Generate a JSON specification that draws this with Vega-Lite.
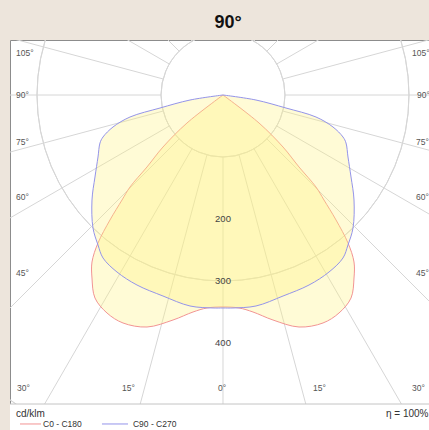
{
  "$schema": "https://vega.github.io/schema/vega-lite/v6.json",
  "width": 419,
  "height": 390,
  "autosize": {"type": "none"},
  "padding": {"left": 10, "top": 40, "right": 0, "bottom": 0},
  "background": "#ede5dc",
  "view": {"fill": "white", "stroke": "#8c8c8c", "strokeWidth": 1},
  "config": {"font": "Liberation Sans"},
  "datasets": {
    "rings": [{"r": 100}, {"r": 200}, {"r": 300}, {"r": 400}, {"r": 500}, {"r": 600}, {"r": 700}],
    "spokes": [
      {"x1": 0, "y1": -100, "x2": 0, "y2": -900},
      {"x1": 25.88, "y1": -96.59, "x2": 232.9, "y2": -869.3},
      {"x1": 50, "y1": -86.6, "x2": 450, "y2": -779.4},
      {"x1": 70.71, "y1": -70.71, "x2": 636.4, "y2": -636.4},
      {"x1": 86.6, "y1": -50, "x2": 779.4, "y2": -450},
      {"x1": 96.59, "y1": -25.88, "x2": 869.3, "y2": -232.9},
      {"x1": 100, "y1": 0, "x2": 900, "y2": 0},
      {"x1": 96.59, "y1": 25.88, "x2": 869.3, "y2": 232.9},
      {"x1": 86.6, "y1": 50, "x2": 779.4, "y2": 450},
      {"x1": 70.71, "y1": 70.71, "x2": 636.4, "y2": 636.4},
      {"x1": 50, "y1": 86.6, "x2": 450, "y2": 779.4},
      {"x1": 25.88, "y1": 96.59, "x2": 232.9, "y2": 869.3},
      {"x1": 0, "y1": 100, "x2": 0, "y2": 900},
      {"x1": -25.88, "y1": -96.59, "x2": -232.9, "y2": -869.3},
      {"x1": -50, "y1": -86.6, "x2": -450, "y2": -779.4},
      {"x1": -70.71, "y1": -70.71, "x2": -636.4, "y2": -636.4},
      {"x1": -86.6, "y1": -50, "x2": -779.4, "y2": -450},
      {"x1": -96.59, "y1": -25.88, "x2": -869.3, "y2": -232.9},
      {"x1": -100, "y1": 0, "x2": -900, "y2": 0},
      {"x1": -96.59, "y1": 25.88, "x2": -869.3, "y2": 232.9},
      {"x1": -86.6, "y1": 50, "x2": -779.4, "y2": 450},
      {"x1": -70.71, "y1": 70.71, "x2": -636.4, "y2": 636.4},
      {"x1": -50, "y1": 86.6, "x2": -450, "y2": 779.4},
      {"x1": -25.88, "y1": 96.59, "x2": -232.9, "y2": 869.3}
    ],
    "curves": [
      {"series": "C0 - C180", "i": 0, "x": 0, "y": 0},
      {"series": "C0 - C180", "i": 1, "x": -58.1, "y": -45.2},
      {"series": "C0 - C180", "i": 2, "x": -96.8, "y": -83.9},
      {"series": "C0 - C180", "i": 3, "x": -122.6, "y": -116.1},
      {"series": "C0 - C180", "i": 4, "x": -150.0, "y": -148.4},
      {"series": "C0 - C180", "i": 5, "x": -162.9, "y": -169.4},
      {"series": "C0 - C180", "i": 6, "x": -182.3, "y": -201.6},
      {"series": "C0 - C180", "i": 7, "x": -201.6, "y": -238.7},
      {"series": "C0 - C180", "i": 8, "x": -211.3, "y": -269.4},
      {"series": "C0 - C180", "i": 9, "x": -211.3, "y": -295.2},
      {"series": "C0 - C180", "i": 10, "x": -206.5, "y": -327.4},
      {"series": "C0 - C180", "i": 11, "x": -187.1, "y": -351.6},
      {"series": "C0 - C180", "i": 12, "x": -161.3, "y": -367.7},
      {"series": "C0 - C180", "i": 13, "x": -122.6, "y": -374.2},
      {"series": "C0 - C180", "i": 14, "x": -80.6, "y": -362.9},
      {"series": "C0 - C180", "i": 15, "x": -48.4, "y": -350.0},
      {"series": "C0 - C180", "i": 16, "x": -25.8, "y": -343.5},
      {"series": "C0 - C180", "i": 17, "x": 0, "y": -341.9},
      {"series": "C0 - C180", "i": 18, "x": 25.8, "y": -343.5},
      {"series": "C0 - C180", "i": 19, "x": 48.4, "y": -350.0},
      {"series": "C0 - C180", "i": 20, "x": 80.6, "y": -362.9},
      {"series": "C0 - C180", "i": 21, "x": 122.6, "y": -374.2},
      {"series": "C0 - C180", "i": 22, "x": 161.3, "y": -367.7},
      {"series": "C0 - C180", "i": 23, "x": 187.1, "y": -351.6},
      {"series": "C0 - C180", "i": 24, "x": 206.5, "y": -327.4},
      {"series": "C0 - C180", "i": 25, "x": 211.3, "y": -295.2},
      {"series": "C0 - C180", "i": 26, "x": 211.3, "y": -269.4},
      {"series": "C0 - C180", "i": 27, "x": 201.6, "y": -238.7},
      {"series": "C0 - C180", "i": 28, "x": 182.3, "y": -201.6},
      {"series": "C0 - C180", "i": 29, "x": 162.9, "y": -169.4},
      {"series": "C0 - C180", "i": 30, "x": 150.0, "y": -148.4},
      {"series": "C0 - C180", "i": 31, "x": 122.6, "y": -116.1},
      {"series": "C0 - C180", "i": 32, "x": 96.8, "y": -83.9},
      {"series": "C0 - C180", "i": 33, "x": 58.1, "y": -45.2},
      {"series": "C0 - C180", "i": 34, "x": 0, "y": 0},
      {"series": "C90 - C270", "i": 0, "x": 0, "y": 0},
      {"series": "C90 - C270", "i": 1, "x": -53.2, "y": -8.1},
      {"series": "C90 - C270", "i": 2, "x": -101.6, "y": -21.0},
      {"series": "C90 - C270", "i": 3, "x": -150.0, "y": -35.5},
      {"series": "C90 - C270", "i": 4, "x": -177.4, "y": -51.6},
      {"series": "C90 - C270", "i": 5, "x": -193.5, "y": -67.7},
      {"series": "C90 - C270", "i": 6, "x": -198.4, "y": -77.4},
      {"series": "C90 - C270", "i": 7, "x": -201.6, "y": -100.0},
      {"series": "C90 - C270", "i": 8, "x": -206.5, "y": -132.3},
      {"series": "C90 - C270", "i": 9, "x": -211.3, "y": -169.4},
      {"series": "C90 - C270", "i": 10, "x": -209.7, "y": -214.5},
      {"series": "C90 - C270", "i": 11, "x": -201.6, "y": -241.9},
      {"series": "C90 - C270", "i": 12, "x": -193.5, "y": -262.9},
      {"series": "C90 - C270", "i": 13, "x": -171.0, "y": -285.5},
      {"series": "C90 - C270", "i": 14, "x": -138.7, "y": -306.5},
      {"series": "C90 - C270", "i": 15, "x": -96.8, "y": -324.2},
      {"series": "C90 - C270", "i": 16, "x": -53.2, "y": -340.3},
      {"series": "C90 - C270", "i": 17, "x": -16.1, "y": -343.5},
      {"series": "C90 - C270", "i": 18, "x": 0, "y": -343.5},
      {"series": "C90 - C270", "i": 19, "x": 16.1, "y": -343.5},
      {"series": "C90 - C270", "i": 20, "x": 53.2, "y": -340.3},
      {"series": "C90 - C270", "i": 21, "x": 96.8, "y": -324.2},
      {"series": "C90 - C270", "i": 22, "x": 138.7, "y": -306.5},
      {"series": "C90 - C270", "i": 23, "x": 171.0, "y": -285.5},
      {"series": "C90 - C270", "i": 24, "x": 193.5, "y": -262.9},
      {"series": "C90 - C270", "i": 25, "x": 201.6, "y": -241.9},
      {"series": "C90 - C270", "i": 26, "x": 209.7, "y": -214.5},
      {"series": "C90 - C270", "i": 27, "x": 211.3, "y": -169.4},
      {"series": "C90 - C270", "i": 28, "x": 206.5, "y": -132.3},
      {"series": "C90 - C270", "i": 29, "x": 201.6, "y": -100.0},
      {"series": "C90 - C270", "i": 30, "x": 198.4, "y": -77.4},
      {"series": "C90 - C270", "i": 31, "x": 193.5, "y": -67.7},
      {"series": "C90 - C270", "i": 32, "x": 177.4, "y": -51.6},
      {"series": "C90 - C270", "i": 33, "x": 150.0, "y": -35.5},
      {"series": "C90 - C270", "i": 34, "x": 101.6, "y": -21.0},
      {"series": "C90 - C270", "i": 35, "x": 53.2, "y": -8.1},
      {"series": "C90 - C270", "i": 36, "x": 0, "y": 0}
    ],
    "angleLabels": [
      {"t": "105°", "x": -333.9, "y": 68.2},
      {"t": "90°", "x": -333.9, "y": 0},
      {"t": "75°", "x": -333.9, "y": -75.3},
      {"t": "60°", "x": -333.9, "y": -164.0},
      {"t": "45°", "x": -333.9, "y": -286.6},
      {"t": "30°", "x": -332.3, "y": -472.6},
      {"t": "15°", "x": -162.9, "y": -472.6},
      {"t": "0°", "x": -8.1, "y": -472.6},
      {"t": "15°", "x": 145.2, "y": -472.6},
      {"t": "30°", "x": 304.8, "y": -472.6},
      {"t": "45°", "x": 311.3, "y": -286.6},
      {"t": "60°", "x": 311.3, "y": -164.0},
      {"t": "75°", "x": 311.3, "y": -75.3},
      {"t": "90°", "x": 312.9, "y": 0},
      {"t": "105°", "x": 304.8, "y": 68.2}
    ],
    "ringLabels": [
      {"t": "200", "x": 0, "y": -200},
      {"t": "300", "x": 0, "y": -300},
      {"t": "400", "x": 0, "y": -400}
    ],
    "legendLines": [
      {"series": "C0 - C180", "x1": -327.4, "x2": -293.5, "y": -530.6},
      {"series": "C90 - C270", "x1": -195.2, "x2": -153.2, "y": -530.6}
    ],
    "legendTexts": [
      {"t": "C0 - C180", "x": -290.3, "y": -530.6},
      {"t": "C90 - C270", "x": -145.2, "y": -530.6}
    ],
    "footTexts": [
      {"t": "cd/klm", "x": -333.9, "y": -514.5}
    ],
    "footRight": [
      {"t": "η = 100%", "x": 331.5, "y": -514.5}
    ],
    "titleText": [
      {"t": "90°", "x": 8.1, "y": 107.3}
    ],
    "legendArea": [
      {"x1": -400, "x2": 400, "y1": -498.4, "y2": -600}
    ]
  },
  "layer": [
    {
      "data": {"name": "rings"},
      "mark": {"type": "arc", "filled": false, "fill": "transparent", "stroke": "#d6d6d6", "strokeWidth": 1, "theta": 0, "theta2": 6.2832, "clip": true},
      "encoding": {
        "x": {"datum": 0, "type": "quantitative", "scale": {"domain": [-343.55, 332.26], "nice": false, "zero": false}, "axis": null},
        "y": {"datum": 0, "type": "quantitative", "scale": {"domain": [-540.32, 88.71], "nice": false, "zero": false}, "axis": null},
        "radius": {"field": "r", "type": "quantitative", "scale": {"type": "linear", "domain": [0, 1000], "range": [0, 620], "zero": true, "nice": false}}
      }
    },
    {
      "data": {"name": "spokes"},
      "mark": {"type": "rule", "color": "#d6d6d6", "strokeWidth": 1, "clip": true},
      "encoding": {
        "x": {"field": "x1", "type": "quantitative", "scale": {"domain": [-343.55, 332.26], "nice": false, "zero": false}, "axis": null},
        "y": {"field": "y1", "type": "quantitative", "scale": {"domain": [-540.32, 88.71], "nice": false, "zero": false}, "axis": null},
        "x2": {"field": "x2"},
        "y2": {"field": "y2"}
      }
    },
    {
      "data": {"name": "curves"},
      "mark": {"type": "line", "interpolate": "catmull-rom", "fill": "#fff27e", "fillOpacity": 0.32, "strokeWidth": 1, "clip": true},
      "encoding": {
        "x": {"field": "x", "type": "quantitative", "scale": {"domain": [-343.55, 332.26], "nice": false, "zero": false}, "axis": null},
        "y": {"field": "y", "type": "quantitative", "scale": {"domain": [-540.32, 88.71], "nice": false, "zero": false}, "axis": null},
        "order": {"field": "i", "type": "quantitative"},
        "color": {"field": "series", "type": "nominal", "scale": {"domain": ["C0 - C180", "C90 - C270"], "range": ["#f29494", "#9494ea"]}, "legend": null}
      }
    },
    {
      "data": {"name": "legendArea"},
      "mark": {"type": "rect", "fill": "white", "clip": true},
      "encoding": {
        "x": {"field": "x1", "type": "quantitative"},
        "x2": {"field": "x2"},
        "y": {"field": "y1", "type": "quantitative"},
        "y2": {"field": "y2"}
      }
    },
    {
      "data": {"values": [{"y": -498.4}]},
      "mark": {"type": "rule", "color": "#c4c4c4", "strokeWidth": 1},
      "encoding": {"y": {"field": "y", "type": "quantitative"}}
    },
    {
      "data": {"name": "angleLabels"},
      "mark": {"type": "text", "align": "left", "baseline": "middle", "fontSize": 8.5, "color": "#555555"},
      "encoding": {
        "x": {"field": "x", "type": "quantitative"},
        "y": {"field": "y", "type": "quantitative"},
        "text": {"field": "t"}
      }
    },
    {
      "data": {"name": "ringLabels"},
      "mark": {"type": "text", "align": "center", "baseline": "middle", "fontSize": 9.5, "color": "#444444"},
      "encoding": {
        "x": {"field": "x", "type": "quantitative"},
        "y": {"field": "y", "type": "quantitative"},
        "text": {"field": "t"}
      }
    },
    {
      "data": {"name": "legendLines"},
      "mark": {"type": "rule", "strokeWidth": 1},
      "encoding": {
        "x": {"field": "x1", "type": "quantitative"},
        "x2": {"field": "x2"},
        "y": {"field": "y", "type": "quantitative"},
        "color": {"field": "series", "type": "nominal", "legend": null}
      }
    },
    {
      "data": {"name": "legendTexts"},
      "mark": {"type": "text", "align": "left", "baseline": "middle", "fontSize": 8.5, "color": "#333333"},
      "encoding": {
        "x": {"field": "x", "type": "quantitative"},
        "y": {"field": "y", "type": "quantitative"},
        "text": {"field": "t"}
      }
    },
    {
      "data": {"name": "footTexts"},
      "mark": {"type": "text", "align": "left", "baseline": "middle", "fontSize": 10, "color": "#333333"},
      "encoding": {
        "x": {"field": "x", "type": "quantitative"},
        "y": {"field": "y", "type": "quantitative"},
        "text": {"field": "t"}
      }
    },
    {
      "data": {"name": "footRight"},
      "mark": {"type": "text", "align": "right", "baseline": "middle", "fontSize": 10, "color": "#333333"},
      "encoding": {
        "x": {"field": "x", "type": "quantitative"},
        "y": {"field": "y", "type": "quantitative"},
        "text": {"field": "t"}
      }
    },
    {
      "data": {"name": "titleText"},
      "mark": {"type": "text", "align": "center", "baseline": "alphabetic", "fontSize": 18, "fontWeight": "bold", "color": "#111111"},
      "encoding": {
        "x": {"field": "x", "type": "quantitative"},
        "y": {"field": "y", "type": "quantitative"},
        "text": {"field": "t"}
      }
    }
  ]
}
